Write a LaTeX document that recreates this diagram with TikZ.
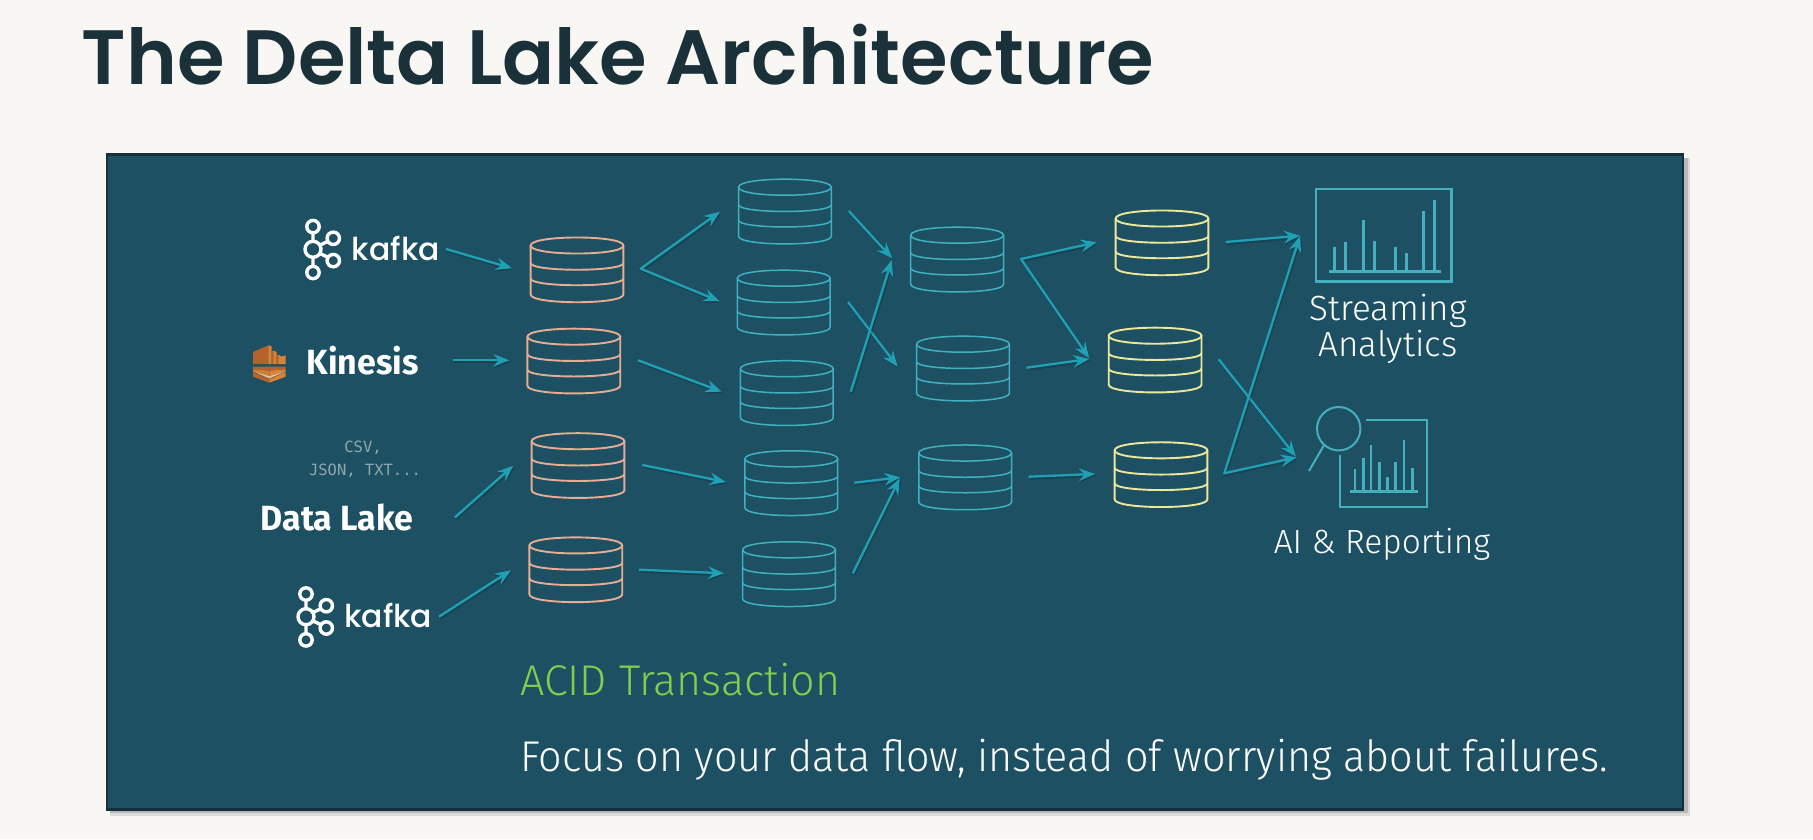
\documentclass[tikz,border=0pt]{standalone}
\usepackage{fontspec}
\usetikzlibrary{arrows.meta}
\newfontfamily\titlefont{Poppins SemiBold}
\newfontfamily\labfont{Fira Sans Light}
\newfontfamily\focusfont[FakeStretch=0.96]{Fira Sans Light}
\newfontfamily\boldlab[FakeStretch=0.97]{Fira Sans}
\newfontfamily\kafkafont{Poppins Medium}
\newfontfamily\codefont{DejaVu Sans Mono}
\definecolor{pagebg}{HTML}{F9F7F4}
\definecolor{panelbg}{HTML}{1D5063}
\definecolor{paneledge}{HTML}{15303A}
\definecolor{titlecol}{HTML}{1B3139}
\definecolor{arrowcol}{HTML}{1FA0B4}
\definecolor{cyancyl}{HTML}{3DB1C2}
\definecolor{orangecyl}{HTML}{E7AC92}
\definecolor{yellowcyl}{HTML}{EDE79A}
\definecolor{iconcol}{HTML}{44B0BF}
\definecolor{acid}{HTML}{84CC4E}
\definecolor{codecol}{HTML}{8FA8AE}
\definecolor{awsdark}{HTML}{B5622C}
\definecolor{awsmid}{HTML}{DB8335}
\definecolor{awslight}{HTML}{F3B988}
\tikzset{
  softshade/.style={preaction={draw=black,opacity=.16,line width=3pt,transform canvas={shift={(1pt,-1.5pt)}}}},
  arr/.style={softshade,draw=arrowcol,line width=2.3pt,-{Stealth[length=16pt,width=12.5pt,inset=5.5pt]}},
  arrboth/.style={softshade,draw=arrowcol,line width=2.3pt,{Stealth[length=16pt,width=12.5pt,inset=5.5pt]}-{Stealth[length=16pt,width=12.5pt,inset=5.5pt]},line join=round},
  dbhit/.style={inner sep=0pt,minimum width=90pt,minimum height=64pt},
  lab/.style={inner sep=0pt,anchor=base west,text=white,font=\labfont\fontsize{43}{43}\selectfont},
  labc/.style={inner sep=0pt,anchor=base,text=white,font=\labfont\fontsize{35}{35}\selectfont},
  iconline/.style={draw=iconcol,line width=2.5pt},
  kafkaline/.style={draw=white,line width=3.4pt},
}
% name, cx, cy, half width, colour, line width
\newcommand{\dbcyl}[6]{%
  \node[dbhit] (#1) at (#2,#3) {};
  \begin{scope}[shift={(#1.center)},draw=#5,line width=#6pt]
    \draw (-#4,-24) .. controls (-#4,-34.7) and (#4,-34.7) .. (#4,-24)
          .. controls (#4,-13.3) and (-#4,-13.3) .. (-#4,-24) -- cycle;
    \draw (-#4,-24) -- (-#4,25) .. controls (-#4,35.3) and (#4,35.3) .. (#4,25) -- (#4,-24);
    \draw (-#4,-6.5) .. controls (-#4,2.5) and (#4,2.5) .. (#4,-6.5);
    \draw (-#4,9) .. controls (-#4,18) and (#4,18) .. (#4,9);
  \end{scope}}
\newcommand{\kafkalogo}[3]{%
  \node[inner sep=0pt,minimum size=46pt] (#1) at (#2,#3) {};
  \begin{scope}[shift={(#1.center)}]
    \draw[kafkaline] (0,-16) -- (0,-8) (0,8) -- (0,17)
       (6.5,-4) -- (15,-8) (6.5,4) -- (15,8);
    \draw[kafkaline] (0,0) circle[radius=8pt];
    \draw[kafkaline] (0,-22.7) circle[radius=6.2pt];
    \draw[kafkaline] (0,23.2) circle[radius=6.2pt];
    \draw[kafkaline] (20.3,-11) circle[radius=6.2pt];
    \draw[kafkaline] (20.3,11.3) circle[radius=6.2pt];
  \end{scope}}
\begin{document}
\begin{tikzpicture}[x=1pt,y=-1pt]
  \fill[pagebg] (0,0) rectangle (1813,839);
  \useasboundingbox (0,0) rectangle (1813,839);
  % title
  \node[inner sep=0pt,anchor=base west,text=titlecol,font=\titlefont\fontsize{77}{77}\selectfont] (title) at (81.5,84) {The Delta Lake Architecture};
  % panel
  \fill[black!14] (110,158) rectangle (1690,816);
  \fill[black!28] (110,158) rectangle (1687.5,813);
  \node[draw=paneledge,fill=panelbg,line width=2.5pt,inner sep=0pt,minimum width=1576pt,minimum height=655pt] (panel) at (895.2,482) {};
  % cylinders
  \dbcyl{dba}{577}{269.5}{46.4}{orangecyl}{1.9}
  \dbcyl{dbb}{573.8}{360.7}{46.4}{orangecyl}{1.9}
  \dbcyl{dbc}{578}{465.2}{46.4}{orangecyl}{1.9}
  \dbcyl{dbd}{575.8}{569.4}{46.4}{orangecyl}{1.9}
  \dbcyl{ca}{784.9}{211.2}{46.4}{cyancyl}{1.5}
  \dbcyl{cb}{783.7}{302.2}{46.4}{cyancyl}{1.5}
  \dbcyl{cc}{786.8}{392.7}{46.4}{cyancyl}{1.5}
  \dbcyl{cd}{791.3}{482.8}{46.4}{cyancyl}{1.5}
  \dbcyl{ce}{789}{573.8}{46.4}{cyancyl}{1.5}
  \dbcyl{da}{957.1}{259.2}{46.4}{cyancyl}{1.5}
  \dbcyl{db}{963}{368.2}{46.4}{cyancyl}{1.5}
  \dbcyl{dd}{965.2}{477}{46.4}{cyancyl}{1.5}
  \dbcyl{ea}{1162}{242.5}{46.4}{yellowcyl}{1.9}
  \dbcyl{eb}{1155.1}{359.7}{46.4}{yellowcyl}{1.9}
  \dbcyl{ec}{1161}{474.3}{46.4}{yellowcyl}{1.9}
  % sources
  \kafkalogo{kla}{313}{249.3}
  \kafkalogo{klb}{306}{616.7}
  \node[inner sep=0pt,anchor=base west,text=white,font=\kafkafont\fontsize{31.5}{31.5}\selectfont] (kafa) at (351.7,260.7) {kafka};
  \node[inner sep=0pt,anchor=base west,text=white,font=\kafkafont\fontsize{31.5}{31.5}\selectfont] (kafb) at (344,627.3) {kafka};
  \node[inner sep=0pt,anchor=base west,text=white,font=\boldlab\bfseries\fontsize{35}{35}\selectfont] (kin) at (306.7,374.7) {Kinesis};
  \node[inner sep=0pt,anchor=base west,text=white,font=\boldlab\bfseries\fontsize{35}{35}\selectfont] (dl) at (260.7,530.3) {Data Lake};
  \node[inner sep=0pt,anchor=base,text=codecol,font=\codefont\fontsize{15.5}{15.5}\selectfont] (csv) at (363,452) {CSV,};
  \node[inner sep=0pt,anchor=base,text=codecol,font=\codefont\fontsize{15.5}{15.5}\selectfont] (json) at (365,475) {JSON, TXT...};
  % kinesis icon
  \begin{scope}[shift={(245,338)},x=0.3333pt,y=-0.3333pt]
    \fill[awsdark] (24,42) -- (70,22) -- (70,78) -- (24,78) -- cycle;
    \fill[awsmid] (70,22) -- (80,24) -- (80,78) -- (70,78) -- cycle;
    \fill[awsdark] (80,40) -- (85,38) -- (85,78) -- (80,78) -- cycle;
    \fill[awsmid] (85,38) -- (95,42) -- (95,78) -- (85,78) -- cycle;
    \fill[awsdark] (95,52) -- (100,50) -- (100,78) -- (95,78) -- cycle;
    \fill[awsmid] (100,50) -- (108,54) -- (108,78) -- (100,78) -- cycle;
    \fill[awsmid] (108,56) -- (122,52) -- (122,78) -- (108,78) -- cycle;
    \fill[awsdark] (24,86) -- (122,86) -- (122,94) -- (73,98) -- (24,94) -- cycle;
    \fill[awsmid] (73,98) -- (122,94) -- (122,100) -- (73,114) -- cycle;
    \fill[awsmid!80!awsdark] (24,94) -- (73,98) -- (73,114) -- (24,100) -- cycle;
    \fill[awslight] (24,100) -- (73,114) -- (122,100) -- (73,122) -- cycle;
    \fill[awsdark] (24,102) -- (73,124) -- (73,134) -- (24,116) -- cycle;
    \fill[awsmid] (122,102) -- (73,124) -- (73,134) -- (122,116) -- cycle;
  \end{scope}
  % chart icon
  \node[draw=iconcol,line width=2.5pt,inner sep=0pt,minimum width=135.7pt,minimum height=92.7pt] (chart) at (1383.85,235.35) {};
  \begin{scope}[shift={(1200,170)},x=0.3333pt,y=-0.3333pt]
    \draw[iconline] (387,304) -- (722,304);
    \foreach \bx/\by in {404/230,437/215,491/150,523/213,586/230,619/250,670/124,703/91}
      \draw[iconline] (\bx,304) -- (\bx,\by);
  \end{scope}
  % report icon
  \coordinate (report) at (1383.5,463.2);
  \draw[draw=iconcol,line width=2pt] ([shift={(-17.2,-43.5)}]report) -- ([shift={(43.5,-43.5)}]report) -- ([shift={(43.5,43.5)}]report) -- ([shift={(-43.5,43.5)}]report) -- ([shift={(-43.5,-7.9)}]report);
  \node[draw=iconcol,circle,line width=2pt,inner sep=0pt,minimum size=43.4pt] (lens) at (1338.7,428.7) {};
  \draw[draw=iconcol,line width=2pt] (lens.225) ++(1pt,-1pt) -- (1309,471);
  \begin{scope}[shift={(1200,170)},x=0.3333pt,y=-0.3333pt]
    \draw[iconline] (450,965) -- (653,965);
    \foreach \bx/\by in {465/897,490/865,513/826,538/877,563/922,587/877,612/811,637/895}
      \draw[iconline] (\bx,965) -- (\bx,\by);
  \end{scope}
  % labels
  \node[labc] (sa) at (1388,320) {Streaming};
  \node[labc] (sb) at (1388,356) {Analytics};
  \node[labc,font=\labfont\fontsize{33.5}{33.5}\selectfont] (ai) at (1382,553) {AI \& Reporting};
  \node[lab,text=acid] (ac) at (520,695.5) {ACID Transaction};
  \node[lab,font=\focusfont\fontsize{43}{43}\selectfont] (fo) at (520,771) {Focus on your data flow, instead of worrying about failures.};
  % connectors
  \draw[arr] ([shift={(94.3,-11.7)}]kafa.base west) -- ([shift={(-65,-1.2)}]dba.center);
  \draw[arrboth] ([shift={(-64.9,0.5)}]ca.center) -- ([shift={(63.7,-0.8)}]dba.center) -- ([shift={(-64.1,-0.9)}]cb.center);
  \draw[arr] ([shift={(146.6,-14.4)}]kin.base west) -- ([shift={(-64.5,-0.4)}]dbb.center);
  \draw[arr] ([shift={(64.2,-0.4)}]dbb.center) -- ([shift={(-65.1,-1)}]cc.center);
  \draw[arr] ([shift={(194.3,-13)}]dl.base west) -- ([shift={(-64.7,0.5)}]dbc.center);
  \draw[arr] ([shift={(64.3,-0.2)}]dbc.center) -- ([shift={(-65.5,-0.8)}]cd.center);
  \draw[arr] ([shift={(95,-10.6)}]kafb.base west) -- ([shift={(-64.8,0.9)}]dbd.center);
  \draw[arr] ([shift={(63.2,0.3)}]dbd.center) -- ([shift={(-64.9,-0.5)}]ce.center);
  \draw[arr] ([shift={(63.9,-0.2)}]ca.center) -- ([shift={(-64.9,-0.9)}]da.center);
  \draw[arr] ([shift={(64.4,-0.2)}]cb.center) -- ([shift={(-65.3,-1.5)}]db.center);
  \draw[arr] ([shift={(64,-1)}]cc.center) -- ([shift={(-65.3,0.8)}]da.center);
  \draw[arrboth] ([shift={(-65.3,-0.2)}]ea.center) -- ([shift={(63.9,-0.2)}]da.center) -- ([shift={(-65.9,-1.4)}]eb.center);
  \draw[arr] ([shift={(63.5,-0.5)}]db.center) -- ([shift={(-65.9,-0.7)}]eb.center);
  \draw[arr] ([shift={(63,-0.1)}]cd.center) -- ([shift={(-64.8,0.3)}]dd.center);
  \draw[arr] ([shift={(63.9,-0.5)}]ce.center) -- ([shift={(-65.5,1.3)}]dd.center);
  \draw[arr] ([shift={(63.3,-0.3)}]dd.center) -- ([shift={(-66,-0.3)}]ec.center);
  \draw[arr] ([shift={(63.7,-0.5)}]ea.center) -- ([shift={(-83.85,0.35)}]chart.center);
  \draw[arr] ([shift={(63.6,-0.4)}]eb.center) -- ([shift={(-87.5,-6.5)}]report);
  \draw[arrboth] ([shift={(-83.85,0.65)}]chart.center) -- ([shift={(63.3,-1)}]ec.center) -- ([shift={(-86.8,-5.9)}]report);
\end{tikzpicture}
\end{document}
